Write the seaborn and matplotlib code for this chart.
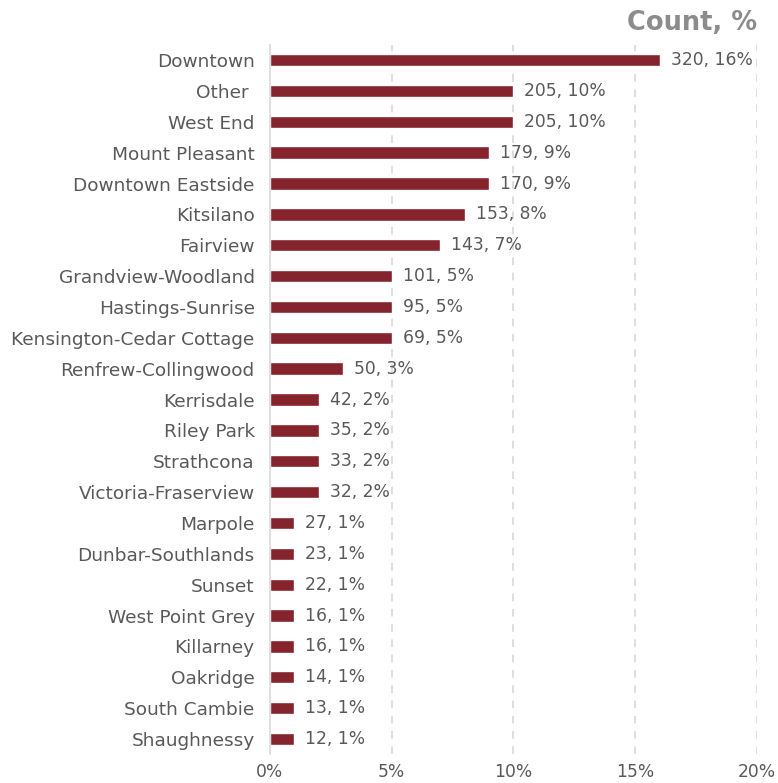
import matplotlib
matplotlib.use("Agg")
import matplotlib.pyplot as plt
import seaborn as sns
import pandas as pd

neighbourhoods = ["Downtown", "Other ", "West End", "Mount Pleasant", "Downtown Eastside",
                  "Kitsilano", "Fairview", "Grandview-Woodland", "Hastings-Sunrise",
                  "Kensington-Cedar Cottage", "Renfrew-Collingwood", "Kerrisdale", "Riley Park",
                  "Strathcona", "Victoria-Fraserview", "Marpole", "Dunbar-Southlands", "Sunset",
                  "West Point Grey", "Killarney", "Oakridge", "South Cambie", "Shaughnessy"]
counts = [320, 205, 205, 179, 170, 153, 143, 101, 95, 69, 50, 42, 35, 33, 32, 27, 23, 22, 16, 16, 14, 13, 12]
percents = [16, 10, 10, 9, 9, 8, 7, 5, 5, 5, 3, 2, 2, 2, 2, 1, 1, 1, 1, 1, 1, 1, 1]
x_ticks = [0, 5, 10, 15, 20]

df = pd.DataFrame({"name": neighbourhoods, "count": counts, "pct": percents})

sns.set_theme(style="white")
plt.rcParams['font.family'] = ['DejaVu Sans']

FS = 12.3
fig = plt.figure(figsize=(7.78, 7.83), dpi=100)
ax = fig.add_axes([0.347, 0.0365, 0.626, 0.9065])

sns.barplot(data=df, y="name", x="pct", orient="h", color="#85242c", width=0.4,
            saturation=1, ax=ax)

for i, (c, p) in enumerate(zip(counts, percents)):
    ax.text(p + 0.45, i, f"{c}, {p}%", va="center", ha="left", fontsize=FS, color="#595959")

ax.set_xlim(0, 20)
ax.set_ylim(22.5, -0.5)
ax.set_xticks(x_ticks)
ax.set_xticklabels([f"{t}%" for t in x_ticks], fontsize=FS, color="#595959")
ax.tick_params(axis="y", labelsize=13.3, labelcolor="#595959", length=0, pad=11)
ax.tick_params(axis="x", length=0, pad=6)
ax.set_xlabel("")
ax.set_ylabel("")
for t in x_ticks[1:]:
    ax.axvline(t, color="#d4d4d4", linestyle=(0, (5, 5)), linewidth=1.1, zorder=0)
for s in ["top", "right", "bottom"]:
    ax.spines[s].set_visible(False)
ax.spines["left"].set_color("#d9d9d9")
ax.spines["left"].set_linewidth(1.2)

fig.text(0.973, 0.97, "Count, %", ha="right", va="center", fontsize=18.5,
         fontweight="bold", color="#8c8c8c")

fig.savefig("out.png", dpi=100)
